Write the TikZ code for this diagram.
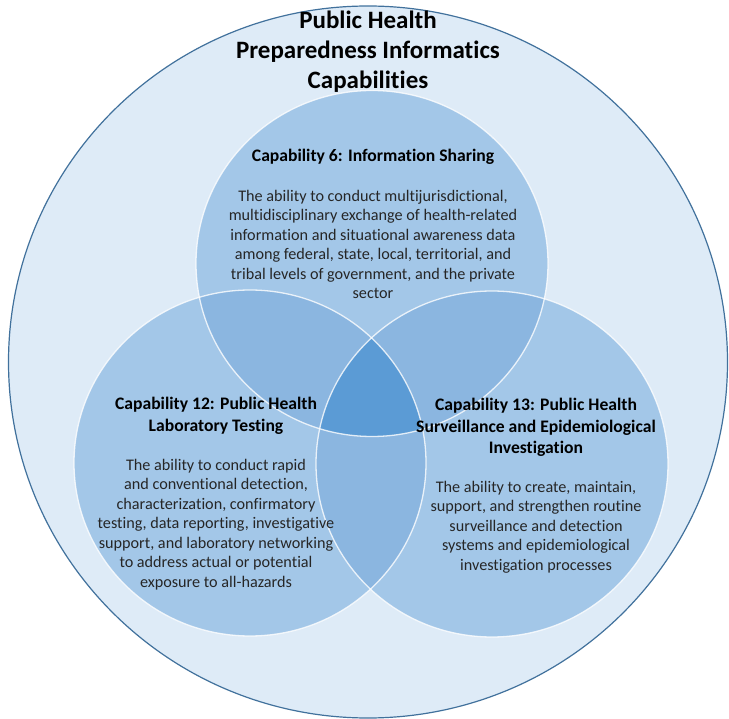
\documentclass[tikz,border=0pt]{standalone}
\usepackage{fontspec}
\setmainfont{Carlito}[Ligatures={NoCommon}]
\definecolor{bgblue}{HTML}{DEEBF7}
\definecolor{rimblue}{HTML}{41719C}
\definecolor{singleblue}{HTML}{A3C7E8}
\definecolor{doubleblue}{HTML}{8BB6E0}
\definecolor{tripleblue}{HTML}{5B9BD5}
\definecolor{textgray}{HTML}{262626}
\tikzset{
  ptop/.style={insert path={(372,-263.5) ellipse [x radius=176, y radius=173]}},
  pleft/.style={insert path={(250,-463) ellipse [x radius=176, y radius=173]}},
  pright/.style={insert path={(492,-464) ellipse [x radius=176, y radius=173]}},
  rim/.style={draw=white, line width=1.3pt, draw opacity=0.8},
  titletext/.style={inner sep=0pt, align=center, font=\fontsize{25}{30}\selectfont\bfseries, text=black},
  headtext/.style={inner sep=0pt, align=center, font=\fontsize{17.6}{21.5}\selectfont\bfseries, text=black},
  bodytext/.style={inner sep=0pt, align=center, font=\fontsize{16.2}{19.5}\selectfont, text=textgray}
}
\begin{document}
\begin{tikzpicture}[x=1pt,y=1pt]
\useasboundingbox (0,0) rectangle (729,-719);
% outer circle
\fill[bgblue, draw=rimblue, line width=1.2pt] (368,-362) ellipse [x radius=359.5, y radius=356];
% single circles
\fill[singleblue][ptop];
\fill[singleblue][pleft];
\fill[singleblue][pright];
% pairwise overlaps
\begin{scope}
  \clip[ptop];
  \fill[doubleblue][pleft];
  \fill[doubleblue][pright];
\end{scope}
\begin{scope}
  \clip[pleft];
  \fill[doubleblue][pright];
\end{scope}
% triple overlap
\begin{scope}
  \clip[ptop];
  \clip[pleft];
  \fill[tripleblue][pright];
\end{scope}
% rims
\draw[rim][ptop];
\draw[rim][pleft];
\draw[rim][pright];
% texts
\node[titletext] (title) at (368,-52) {Public Health\\Preparedness Informatics\\Capabilities};
\node[headtext] (h6) at (373,-157) {Capability 6: Information Sharing};
\node[bodytext] (b6) at (373,-244.5) {The ability to conduct multijurisdictional,\\multidisciplinary exchange of health-related\\information and situational awareness data\\among federal, state, local, territorial, and\\tribal levels of government, and the private\\sector};
\node[headtext] (h12) at (216,-416) {Capability 12: Public Health\\Laboratory Testing};
\node[bodytext] (b12) at (216,-524.5) {The ability to conduct rapid\\and conventional detection,\\characterization, confirmatory\\testing, data reporting, investigative\\support, and laboratory networking\\to address actual or potential\\exposure to all-hazards};
\node[headtext] (h13) at (536,-427.5) {Capability 13: Public Health\\Surveillance and Epidemiological\\Investigation};
\node[bodytext] (b13) at (536,-527) {The ability to create, maintain,\\support, and strengthen routine\\surveillance and detection\\systems and epidemiological\\investigation processes};
\end{tikzpicture}
\end{document}
